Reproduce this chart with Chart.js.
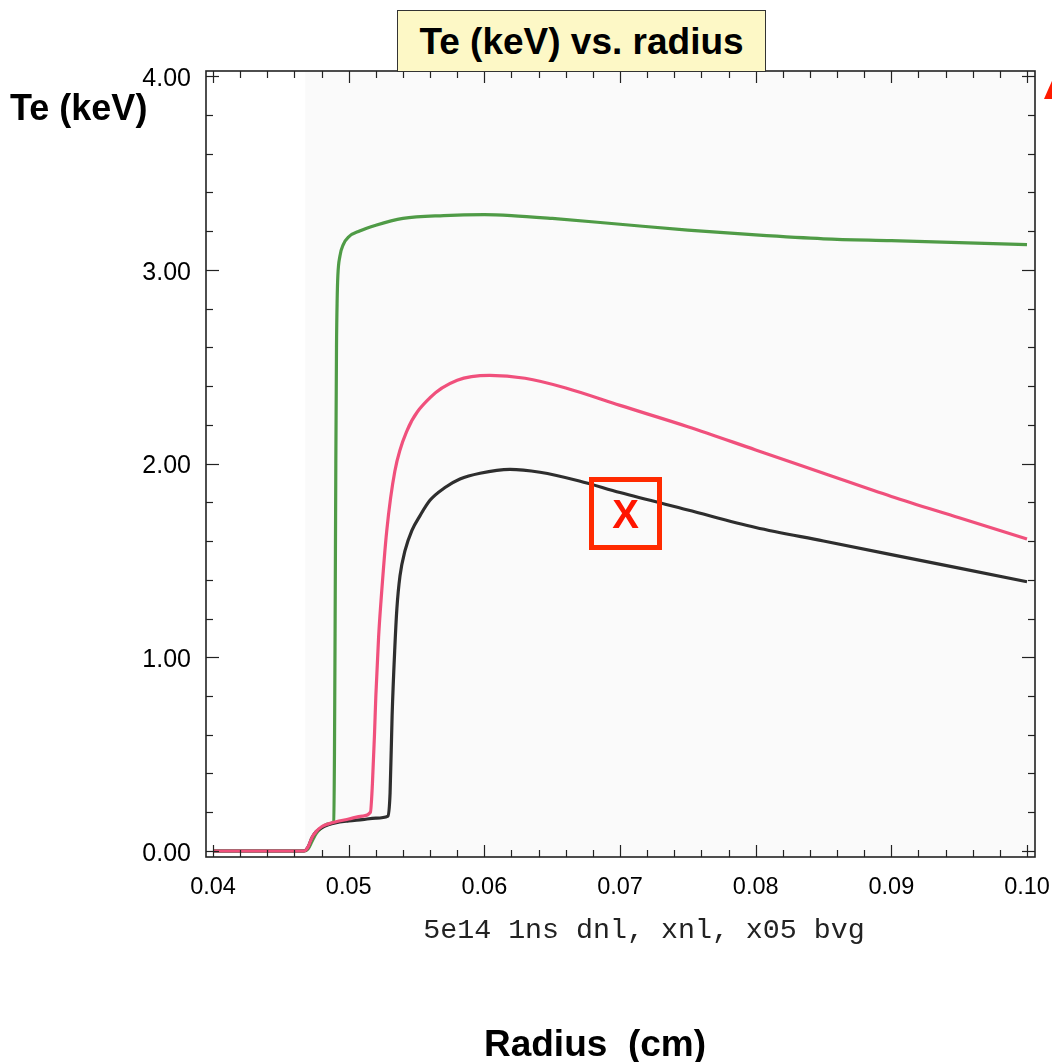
<!DOCTYPE html>
<html>
<head>
<meta charset="utf-8">
<title>Te (keV) vs. radius</title>
<script src="https://cdn.jsdelivr.net/npm/chart.js@4/dist/chart.umd.min.js"></script>
<style>
  html, body { margin: 0; padding: 0; background: #ffffff; }
  #wrap { position: relative; width: 1052px; height: 1062px; overflow: hidden; }
  #plot { position: absolute; left: 0; top: 0; }
  .lbl { position: absolute; font-family: "Liberation Sans", Arial, Helvetica, sans-serif; color: #000; white-space: pre; line-height: 1; }
  #titleBox { left: 397px; top: 10px; width: 367px; height: 60px; background: #fdf8c6; border: 1.5px solid #333;
              display: flex; align-items: center; justify-content: center; font-weight: bold; font-size: 37px; }
  #yTitle { left: 10px; top: 90px; font-weight: bold; font-size: 36px; }
  #xTitle { left: 0; width: 1190px; top: 1025px; text-align: center; font-weight: bold; font-size: 37px; }
  #runTag { left: 0; width: 1288px; top: 916px; text-align: center; font-family: "Liberation Mono", "DejaVu Sans Mono", monospace; font-size: 28.3px; color: #222; }
  #markBox { left: 589px; top: 477px; width: 63px; height: 63px; border: 5.5px solid #ff2a00; background: transparent;
             display: flex; align-items: center; justify-content: center; font-weight: bold; font-size: 40px; color: #ff1500; }
  #arrowTip { position: absolute; left: 1044px; top: 74px; width: 22px; height: 25px; background: #ff1a00;
              clip-path: polygon(50% 0, 100% 100%, 0 100%); }
</style>
</head>
<body>
<div id="wrap">
  <canvas id="plot" width="1052" height="1062"></canvas>
  <div class="lbl" id="titleBox">Te (keV) vs. radius</div>
  <div class="lbl" id="yTitle">Te (keV)</div>
  <div class="lbl" id="xTitle">Radius  (cm)</div>
  <div class="lbl" id="runTag">5e14 1ns dnl, xnl, x05 bvg</div>
  <div class="lbl" id="markBox">X</div>
  <div id="arrowTip"></div>
</div>
<script>
// Electron temperature profiles (keV) against radius (cm)

// green profile
const greenR = [0.0400, 0.0467, 0.0470, 0.0473, 0.0476, 0.0480, 0.0485, 0.0489, 0.04895, 0.0490, 0.04905,
                0.0491, 0.04915, 0.0492, 0.04935, 0.0496, 0.0500, 0.0508, 0.0520, 0.0540, 0.0570, 0.0600,
                0.0620, 0.0650, 0.0700, 0.0750, 0.0800, 0.0850, 0.0900, 0.0950, 0.1000];
const greenTe = [0.00, 0.00, 0.01, 0.05, 0.09, 0.12, 0.14, 0.15, 0.50, 1.20, 2.00,
                 2.60, 2.85, 2.97, 3.07, 3.13, 3.17, 3.20, 3.23, 3.265, 3.28, 3.285,
                 3.28, 3.265, 3.235, 3.205, 3.18, 3.16, 3.15, 3.14, 3.13];

// pink profile
const pinkR = [0.0400, 0.0467, 0.0470, 0.0473, 0.0476, 0.0480, 0.0485, 0.0490, 0.0500, 0.0510, 0.0516,
               0.05175, 0.0519, 0.0520, 0.0522, 0.05238, 0.0528, 0.0534, 0.0543, 0.0560, 0.0580, 0.0604,
               0.0630, 0.0660, 0.0700, 0.0750, 0.0800, 0.0850, 0.0900, 0.0950, 0.1000];
const pinkTe = [0.00, 0.00, 0.02, 0.07, 0.10, 0.125, 0.14, 0.15, 0.165, 0.18, 0.20,
                0.35, 0.60, 0.80, 1.10, 1.29, 1.65, 1.96, 2.17, 2.34, 2.43, 2.455,
                2.44, 2.39, 2.30, 2.19, 2.07, 1.95, 1.83, 1.72, 1.61];

// black profile
const blackR = [0.0400, 0.0467, 0.0470, 0.0473, 0.0476, 0.0480, 0.0485, 0.0490, 0.0500, 0.0510, 0.0520,
                0.0529, 0.05305, 0.0532, 0.0534, 0.05355, 0.05378, 0.05415, 0.05466, 0.05525, 0.05599,
                0.0571, 0.0582, 0.05968, 0.06189, 0.0641, 0.0670, 0.0700, 0.0750, 0.0800, 0.0850,
                0.0900, 0.0950, 0.1000];
const blackTe = [0.00, 0.00, 0.02, 0.07, 0.10, 0.12, 0.135, 0.145, 0.155, 0.162, 0.17,
                 0.18, 0.30, 0.70, 1.05, 1.25, 1.42, 1.55, 1.655, 1.73, 1.81,
                 1.876, 1.92, 1.95, 1.97, 1.955, 1.91, 1.85, 1.76, 1.67, 1.60,
                 1.53, 1.46, 1.39];

// axis ticks
const xMajorTicks = [0.04, 0.05, 0.06, 0.07, 0.08, 0.09, 0.10];
const xMinorTicks = [0.042, 0.044, 0.046, 0.048, 0.052, 0.054, 0.056, 0.058, 0.062, 0.064, 0.066, 0.068,
                     0.072, 0.074, 0.076, 0.078, 0.082, 0.084, 0.086, 0.088, 0.092, 0.094, 0.096, 0.098];
const yMajorTicks = [0, 1, 2, 3, 4];
const yMinorTicks = [0.2, 0.4, 0.6, 0.8, 1.2, 1.4, 1.6, 1.8, 2.2, 2.4, 2.6, 2.8, 3.2, 3.4, 3.6, 3.8];

// axis extents
const xRange = [0.03948, 0.10059];
const yRange = [-0.031, 4.026];
// radius where the shaded plotting field begins
const shadeStart = 0.0468;

const toPoints = (rs, ts) => rs.map((r, i) => ({ x: r, y: ts[i] }));

// frame, shaded field and inward tick marks on all four sides
const framePlugin = {
  id: 'frame',
  beforeDatasetsDraw(chart) {
    const { ctx, chartArea: a, scales: { x } } = chart;
    ctx.save();
    ctx.fillStyle = '#fafafa';
    const sx = x.getPixelForValue(shadeStart);
    ctx.fillRect(sx, a.top, a.right - sx, a.bottom - a.top);
    ctx.restore();
  },
  afterDatasetsDraw(chart) {
    const { ctx, chartArea: a, scales: { x, y } } = chart;
    ctx.save();
    ctx.strokeStyle = '#222';
    ctx.lineWidth = 1.2;
    const seg = (x1, y1, x2, y2) => { ctx.beginPath(); ctx.moveTo(x1, y1); ctx.lineTo(x2, y2); ctx.stroke(); };
    const xt = (v, len) => {
      const px = Math.round(x.getPixelForValue(v)) + 0.5;
      seg(px, a.bottom, px, a.bottom - len);
      seg(px, a.top, px, a.top + len);
    };
    const yt = (v, len) => {
      const py = Math.round(y.getPixelForValue(v)) + 0.5;
      seg(a.left, py, a.left + len, py);
      seg(a.right, py, a.right - len, py);
    };
    xMajorTicks.forEach(v => xt(v, 12));
    xMinorTicks.forEach(v => xt(v, 7));
    yMajorTicks.forEach(v => yt(v, 13));
    yMinorTicks.forEach(v => yt(v, 7));
    ctx.lineWidth = 1.6;
    ctx.strokeRect(a.left, a.top, a.right - a.left, a.bottom - a.top);
    ctx.restore();
  }
};

const lineStyle = (color, order) => ({
  borderColor: color,
  backgroundColor: color,
  borderWidth: 3.2,
  pointRadius: 0,
  fill: false,
  showLine: true,
  cubicInterpolationMode: 'monotone',
  order: order
});

const tickFont = size => ({ family: '"Liberation Sans", Arial, Helvetica, sans-serif', size: size });

new Chart(document.getElementById('plot'), {
  type: 'scatter',
  data: {
    datasets: [
      Object.assign({ label: 'pink', data: toPoints(pinkR, pinkTe) }, lineStyle('#f0507c', 0)),
      Object.assign({ label: 'black', data: toPoints(blackR, blackTe) }, lineStyle('#2e2e2e', 1)),
      Object.assign({ label: 'green', data: toPoints(greenR, greenTe) }, lineStyle('#4f9b46', 2))
    ]
  },
  options: {
    responsive: false,
    animation: false,
    devicePixelRatio: 1,
    layout: { padding: { left: 0, top: 71, right: 17, bottom: 0 } },
    plugins: { legend: { display: false }, tooltip: { enabled: false } },
    scales: {
      x: {
        type: 'linear',
        min: xRange[0],
        max: xRange[1],
        afterBuildTicks: s => { s.ticks = xMajorTicks.map(v => ({ value: v })); },
        afterFit: s => { s.height = 205; s.paddingLeft = 0; s.paddingRight = 0; },
        grid: { display: false, drawTicks: false },
        border: { display: false },
        ticks: {
          padding: 16,
          maxRotation: 0,
          autoSkip: false,
          color: '#000',
          font: tickFont(23.5),
          callback: v => Number(v).toFixed(2)
        }
      },
      y: {
        type: 'linear',
        min: yRange[0],
        max: yRange[1],
        afterBuildTicks: s => { s.ticks = yMajorTicks.map(v => ({ value: v })); },
        afterFit: s => { s.width = 206; s.paddingTop = 0; s.paddingBottom = 0; },
        grid: { display: false, drawTicks: false },
        border: { display: false },
        ticks: {
          padding: 15,
          labelOffset: 3,
          autoSkip: false,
          color: '#000',
          font: tickFont(25),
          callback: v => Number(v).toFixed(2)
        }
      }
    }
  },
  plugins: [framePlugin]
});
</script>
</body>
</html>
